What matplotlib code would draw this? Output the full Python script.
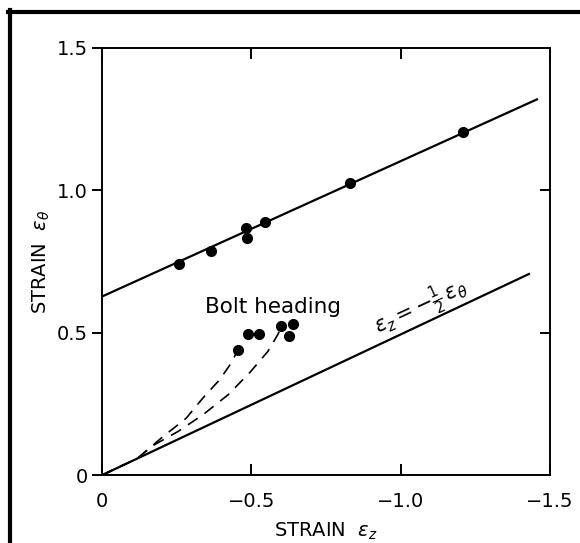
import numpy as np
import matplotlib
matplotlib.use("Agg")
import matplotlib.pyplot as plt
from matplotlib.lines import Line2D

# measured points on the upper line (eps_z, eps_theta)
upper_x = [-0.258, -0.365, -0.481, -0.484, -0.547, -0.830, -1.210]
upper_y = [0.742, 0.785, 0.869, 0.832, 0.889, 1.026, 1.203]
upper_line_x = [0.0, -1.457]
upper_line_y = [0.627, 1.319]

# bolt heading points
bolt_x = [-0.455, -0.489, -0.526, -0.601, -0.640, -0.625]
bolt_y = [0.440, 0.494, 0.494, 0.525, 0.529, 0.490]

# eps_z = -1/2 eps_theta line
lower_line_x = [0.0, -1.430]
lower_line_y = [0.0, 0.706]

# dashed strain paths
dash1_x = [0.0, -0.12, -0.153, -0.198, -0.282, -0.338, -0.394, -0.433, -0.455, -0.478]
dash1_y = [0.0, 0.060, 0.089, 0.130, 0.200, 0.271, 0.335, 0.394, 0.440, 0.464]
dash2_x = [0.0, -0.12, -0.164, -0.254, -0.338, -0.422, -0.494, -0.556, -0.589, -0.601]
dash2_y = [0.0, 0.060, 0.100, 0.153, 0.212, 0.282, 0.359, 0.435, 0.494, 0.523]

xticks = [0, -0.5, -1.0, -1.5]
xtick_labels = ["0", "\u22120.5", "\u22121.0", "\u22121.5"]
yticks = [0, 0.5, 1.0, 1.5]
ytick_labels = ["0", "0.5", "1.0", "1.5"]

fig = plt.figure(figsize=(5.8, 5.43), dpi=100)
ax = fig.add_axes([0.176, 0.125, 0.772, 0.787])

ax.plot(upper_line_x, upper_line_y, color="black", lw=1.6)
ax.plot(lower_line_x, lower_line_y, color="black", lw=1.6)
ax.plot(upper_x, upper_y, "o", color="black", ms=7)
ax.plot(bolt_x, bolt_y, "o", color="black", ms=7)
ax.plot(dash1_x, dash1_y, color="black", lw=1.2, dashes=(7, 5))
ax.plot(dash2_x, dash2_y, color="black", lw=1.2, dashes=(7, 5))

ax.text(-0.571, 0.59, "Bolt heading", fontsize=15.5, ha="center", va="center")
ax.text(-1.07, 0.59, r"$\varepsilon_z=-\frac{1}{2}\,\varepsilon_\theta$",
        fontsize=15, ha="center", va="center", rotation=25)

ax.set_xlim(0, -1.5)
ax.set_ylim(0, 1.5)
ax.set_xticks(xticks)
ax.set_xticklabels(xtick_labels)
ax.set_yticks(yticks)
ax.set_yticklabels(ytick_labels)
ax.tick_params(axis="x", direction="in", top=True, length=8, width=1.4,
               labelsize=14, pad=12)
ax.tick_params(axis="y", direction="out", length=7, width=1.4, labelsize=14, pad=3)
for s in ax.spines.values():
    s.set_linewidth(1.4)

# right side ticks point inward
for y in [0.5, 1.0]:
    ax.plot([-1.5, -1.47], [y, y], color="black", lw=1.4, clip_on=False)

ax.set_xlabel(r"STRAIN  $\varepsilon_z$", fontsize=14, labelpad=7)
ax.set_ylabel(r"STRAIN  $\varepsilon_\theta$", fontsize=14, labelpad=4)

# outer frame of the scanned figure
fig.add_artist(Line2D([10 / 580, 10 / 580], [0, 1 - 10 / 543], color="black",
                      lw=3, transform=fig.transFigure))
fig.add_artist(Line2D([8 / 580, 1], [1 - 12 / 543, 1 - 12 / 543], color="black",
                      lw=3, transform=fig.transFigure))

fig.savefig("out.png", dpi=100)
